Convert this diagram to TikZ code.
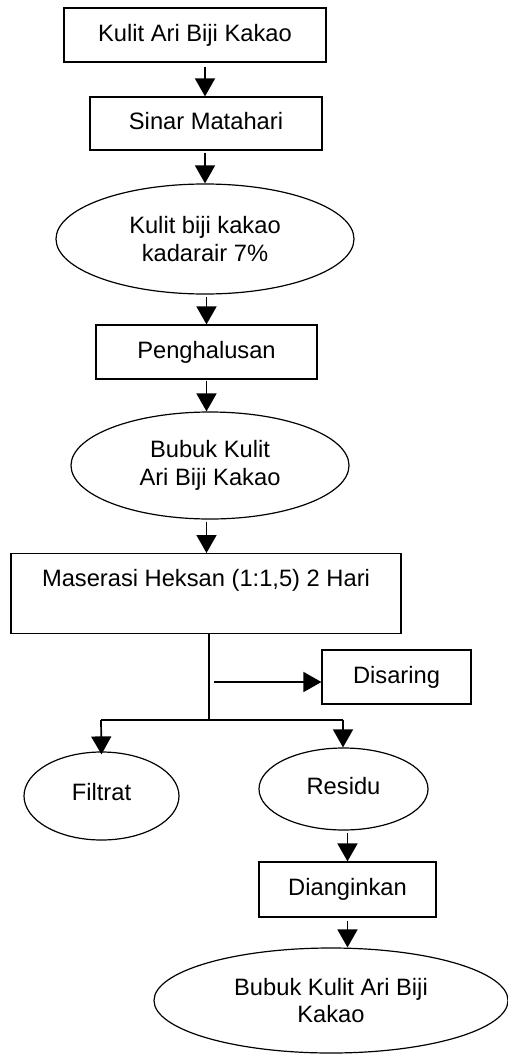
\documentclass[tikz,border=0pt]{standalone}
\usepackage{fontspec}
\setmainfont{Liberation Sans}
\usetikzlibrary{shapes.geometric,arrows.meta}
\begin{document}
\begin{tikzpicture}[x=1pt,y=-1pt,
  font=\fontsize{23.7}{27.3}\selectfont,
  box/.style={draw,line width=1.2pt,rectangle,inner sep=0pt,text height=17.5pt,text depth=5pt,align=center},
  oval/.style={draw,line width=1.2pt,ellipse,inner sep=0pt,align=center},
  arr/.style={line width=1.7pt,-{Triangle[width=20pt 0,length=18pt 0]}},
  conn/.style={line width=1.2pt}]
\useasboundingbox (0,0) rectangle (508,1055);
\node[box,minimum width=262pt,minimum height=54pt] (b1) at (195,35) {Kulit Ari Biji Kakao};
\node[box,minimum width=232pt,minimum height=53pt] (b2) at (206,123.5) {Sinar Matahari};
\node[oval,minimum width=298pt,minimum height=110pt] (e1) at (205,239) {Kulit biji kakao\\kadarair 7\%};
\node[box,minimum width=221pt,minimum height=54pt] (b3) at (206.5,352) {Penghalusan};
\node[oval,minimum width=278pt,minimum height=107pt] (e2) at (210,465.5) {Bubuk Kulit\\Ari Biji Kakao};
\node[draw,line width=1.2pt,rectangle,inner xsep=0pt,inner ysep=0pt,minimum width=390pt,text height=33pt,text depth=47pt,anchor=north] (b4) at (206,553) {Maserasi Heksan (1:1,5) 2 Hari};
\node[box,minimum width=149pt,minimum height=54pt] (dis) at (396.5,677) {Disaring};
\node[oval,minimum width=155pt,minimum height=88pt,text depth=9pt] (filt) at (101.5,796) {Filtrat};
\node[oval,minimum width=169pt,minimum height=82pt,text depth=7pt] (res) at (343.5,789) {Residu};
\node[box,minimum width=177pt,minimum height=55pt] (dian) at (347.5,889.5) {Dianginkan};
\node[oval,minimum width=354pt,minimum height=105pt] (fin) at (331,1000.5) {Bubuk Kulit Ari Biji\\Kakao};
\coordinate (split) at (209,720);
\coordinate (lft) at (101,720);
\coordinate (rgt) at (343,720);
\coordinate (dstart) at (214,682);
\draw[arr,shorten <=4pt] (b1.south -| e1.north) -- (e1.north |- b2.north);
\draw[arr,shorten <=2pt] (b2.south -| e1.north) -- (e1.north);
\draw[arr,shorten <=2pt] (e1.south -| b3.north) -- (b3.north);
\draw[arr,shorten <=1pt] (b3.south) -- (b3.south |- e2.north);
\draw[arr,shorten <=2pt] (e2.south -| b3.north) -- (b3.north |- b4.north);
\draw[conn] (b4.south -| split) -- (split);
\draw[conn] (lft) -- (rgt);
\draw[arr] (lft) -- ([yshift=-3pt]filt.north);
\draw[arr] (rgt) -- (rgt |- res.north);
\draw[arr] (dstart) -- (dstart -| dis.west);
\draw[arr,shorten <=2pt] (dian.north |- res.south) -- (dian.north);
\draw[arr,shorten <=3pt] (dian.south) -- (dian.south |- fin.north);
\end{tikzpicture}
\end{document}
